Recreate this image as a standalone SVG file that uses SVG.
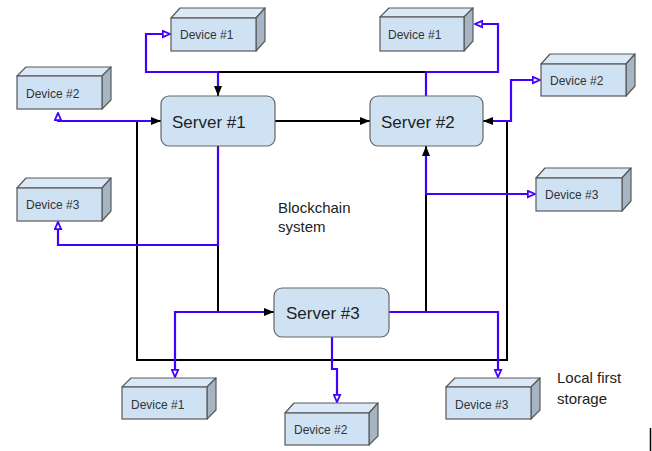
<svg xmlns="http://www.w3.org/2000/svg" width="652" height="451" viewBox="0 0 652 451">
<style>
.front{fill:#cfe2f3;stroke:#595959;stroke-width:1.2}
.top{fill:#dbe9f6;stroke:#595959;stroke-width:1.2;stroke-linejoin:round}
.side{fill:#a5b5c4;stroke:#595959;stroke-width:1.2;stroke-linejoin:round}
.srv{fill:#cfe2f3;stroke:#666;stroke-width:1.2}
.dt{font-family:"Liberation Sans",Arial,sans-serif;font-size:12px;fill:#333}
.st{font-family:"Liberation Sans",Arial,sans-serif;font-size:17px;fill:#222}
.lt{font-family:"Liberation Sans",Arial,sans-serif;font-size:15px;fill:#222}
.blk{fill:none;stroke:#000;stroke-width:2}
.blu{fill:none;stroke:#4400ff;stroke-width:2.2}
</style>
<defs>
<marker id="ab" viewBox="0 0 10 10" refX="10" refY="5" markerWidth="10" markerHeight="10" markerUnits="userSpaceOnUse" orient="auto-start-reverse">
<path d="M0,1 L10,5 L0,9 Z" fill="#000"/>
</marker>
<marker id="ao" viewBox="0 0 10 10" refX="9" refY="5" markerWidth="9" markerHeight="9" markerUnits="userSpaceOnUse" orient="auto">
<path d="M1,1.5 L9,5 L1,8.5 Z" fill="#fff" stroke="#4400ff" stroke-width="2"/>
</marker>
</defs>

<g id="connectors">
<path class="blk" d="M161,121 H137 V360 H507 V121 H483" marker-start="url(#ab)" marker-end="url(#ab)"/>
<path class="blk" d="M426,96 V72 H218 V96" marker-end="url(#ab)"/>
<path class="blk" d="M275,121 H370" marker-end="url(#ab)"/>
<path class="blk" d="M218,146 V312 H274" marker-end="url(#ab)"/>
<path class="blk" d="M389,312 H426 V146" marker-end="url(#ab)"/>

<path class="blu" d="M218,86 V72 H146 V34 H170" marker-end="url(#ao)"/>
<path class="blu" d="M151,121 H58 V113" marker-end="url(#ao)"/>
<path class="blu" d="M218,147 V245 H58 V222" marker-end="url(#ao)"/>
<path class="blu" d="M426,96 V72 H498 V24 H475" marker-end="url(#ao)"/>
<path class="blu" d="M493,121 H511 V80 H540" marker-end="url(#ao)"/>
<path class="blu" d="M426,156 V194 H535" marker-end="url(#ao)"/>
<path class="blu" d="M264,312 H175 V377" marker-end="url(#ao)"/>
<path class="blu" d="M332,337 V369 H337 V402" marker-end="url(#ao)"/>
<path class="blu" d="M389,312 H498 V377" marker-end="url(#ao)"/>
</g>

<g id="server1">
<rect class="srv" x="161" y="96" width="114" height="50" rx="8"/>
<text class="st" x="172" y="128">Server #1</text>
</g>
<g id="server2">
<rect class="srv" x="370" y="96" width="113" height="50" rx="8"/>
<text class="st" x="381" y="128">Server #2</text>
</g>
<g id="server3">
<rect class="srv" x="274" y="288" width="115" height="49" rx="8"/>
<text class="st" x="286" y="319">Server #3</text>
</g>

<g id="s1-device1">
<polygon class="top" points="171,18 180,8 265,8 256,18"/>
<polygon class="side" points="256,18 265,8 265,41 256,51"/>
<rect class="front" x="171" y="18" width="85" height="33"/>
<text class="dt" x="180" y="39">Device #1</text>
</g>
<g id="s1-device2">
<polygon class="top" points="17,76 26,67 111,67 102,76"/>
<polygon class="side" points="102,76 111,67 111,100 102,109"/>
<rect class="front" x="17" y="76" width="85" height="33"/>
<text class="dt" x="26" y="98">Device #2</text>
</g>
<g id="s1-device3">
<polygon class="top" points="17,188 26,178 111,178 102,188"/>
<polygon class="side" points="102,188 111,178 111,211 102,221"/>
<rect class="front" x="17" y="188" width="85" height="33"/>
<text class="dt" x="26" y="209">Device #3</text>
</g>

<g id="s2-device1">
<polygon class="top" points="380,17 389,8 473,8 464,17"/>
<polygon class="side" points="464,17 473,8 473,41 464,51"/>
<rect class="front" x="380" y="17" width="84" height="34"/>
<text class="dt" x="388" y="39">Device #1</text>
</g>
<g id="s2-device2">
<polygon class="top" points="541,64 550,54 635,54 626,64"/>
<polygon class="side" points="626,64 635,54 635,86 626,96"/>
<rect class="front" x="541" y="64" width="85" height="32"/>
<text class="dt" x="550" y="85">Device #2</text>
</g>
<g id="s2-device3">
<polygon class="top" points="536,178 545,168 631,168 622,178"/>
<polygon class="side" points="622,178 631,168 631,201 622,211"/>
<rect class="front" x="536" y="178" width="86" height="33"/>
<text class="dt" x="545" y="199">Device #3</text>
</g>

<g id="s3-device1">
<polygon class="top" points="122,387 131,378 216,378 207,387"/>
<polygon class="side" points="207,387 216,378 216,410 207,419"/>
<rect class="front" x="122" y="387" width="85" height="32"/>
<text class="dt" x="131" y="409">Device #1</text>
</g>
<g id="s3-device2">
<polygon class="top" points="285,413 294,403 378,403 369,413"/>
<polygon class="side" points="369,413 378,403 378,436 369,445"/>
<rect class="front" x="285" y="413" width="84" height="32"/>
<text class="dt" x="294" y="434">Device #2</text>
</g>
<g id="s3-device3">
<polygon class="top" points="446,387 455,378 540,378 531,387"/>
<polygon class="side" points="531,387 540,378 540,410 531,419"/>
<rect class="front" x="446" y="387" width="85" height="32"/>
<text class="dt" x="455" y="409">Device #3</text>
</g>

<g id="labels">
<text class="lt" x="278" y="213">Blockchain</text>
<text class="lt" x="278" y="232">system</text>
<text class="lt" x="557" y="383">Local first</text>
<text class="lt" x="557" y="404">storage</text>
</g>
<line x1="650.5" y1="428" x2="650.5" y2="451" stroke="#000" stroke-width="1.5"/>
</svg>
